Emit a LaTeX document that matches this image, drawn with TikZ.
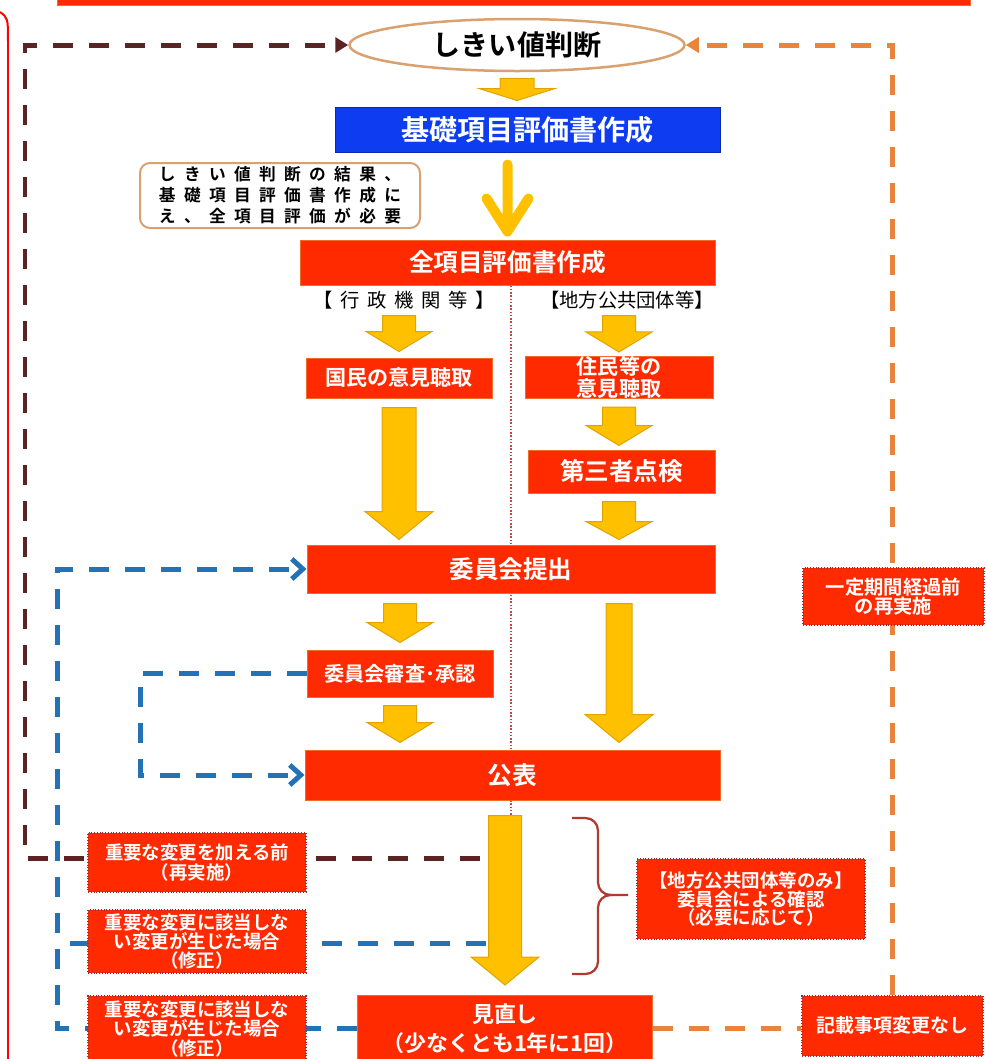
\documentclass[tikz,border=0pt]{standalone}
\usepackage{fontspec}
\setmainfont{Noto Sans CJK JP}[BoldFont={Noto Sans CJK JP Bold}]
\newfontfamily\jpnote{Noto Sans CJK JP}[LetterSpace=50,BoldFont={Noto Sans CJK JP Bold}]
\newfontfamily\jplabel{Noto Sans CJK JP}[LetterSpace=40]
\usetikzlibrary{arrows.meta,calc,backgrounds,shapes.geometric}

\definecolor{boxred}{HTML}{FF2A00}
\definecolor{boxedge}{HTML}{F26A2A}
\definecolor{noteedge}{HTML}{A8282C}
\definecolor{kisoblue}{HTML}{0E3CF0}
\definecolor{kisoedge}{HTML}{0A2AA8}
\definecolor{elledge}{HTML}{D9A070}
\definecolor{yarrc}{HTML}{FFC000}
\definecolor{yarredge}{HTML}{E0A400}
\definecolor{brownc}{HTML}{5A2424}
\definecolor{bluec}{HTML}{2272B5}
\definecolor{orangec}{HTML}{E8843C}
\definecolor{bracec}{HTML}{B03A2E}
\definecolor{divc}{HTML}{C04848}

% block arrow: top point, bottom point, shaft half width, head half width, head length
\newcommand{\yarrow}[5]{%
  \path (#1) coordinate (yat) (#2) coordinate (yab);
  \fill[yarr] ($(yat)+(-#3,0)$) -- ($(yat)+(#3,0)$) -- ($(yab)+(#3,-#5)$) -- ($(yab)+(#4,-#5)$)
    -- (yab) -- ($(yab)+(-#4,-#5)$) -- ($(yab)+(-#3,-#5)$) -- cycle;}

\begin{document}
\begin{tikzpicture}[x=0.02cm,y=-0.02cm]
\useasboundingbox (0,0) rectangle (985,1059);

\tikzstyle{redbox}=[fill=boxred, draw=boxedge, line width=0.02cm, text=white, align=center, inner sep=0pt]
\tikzstyle{notebox}=[redbox, draw=noteedge, densely dotted, line width=0.03cm]
\tikzstyle{yarr}=[fill=yarrc, draw=yarredge, line width=0.02cm]
\tikzstyle{brownline}=[draw=brownc, line width=0.1cm, dash pattern=on 0.4cm off 0.32cm]
\tikzstyle{blueline}=[draw=bluec, line width=0.1cm, dash pattern=on 0.4cm off 0.32cm]
\tikzstyle{orangeline}=[draw=orangec, line width=0.1cm, dash pattern=on 0.4cm off 0.32cm]
\tikzset{sz/.style 2 args={minimum width=#1*0.02cm, minimum height=#2*0.02cm},
         fs/.style 2 args={font=\bfseries\fontsize{#1}{#2}\selectfont}}

% frame pieces
\fill[boxred, draw=boxedge] (57,-5) rectangle (970,5);
\draw[red, line width=0.04cm] (0,12) .. controls (8,18) .. (8,42) -- (8,1059);

% top
\node[ellipse, draw=elledge, line width=0.05cm, fill=white, sz={335}{52}, inner sep=0pt, fs={16}{18}] (thresh) at (517,45) {しきい値判断};
\node[redbox, fill=kisoblue, draw=kisoedge, sz={385}{45}, fs={16}{18}] (kiso) at (527.5,129.5) {基礎項目評価書作成};
\node[draw=elledge, line width=0.04cm, rounded corners=0.2cm, sz={280}{65}, align=left, inner sep=0pt,
      font=\jpnote\bfseries\fontsize{9.5}{12}\selectfont] (note) at (280,195.5)
      {しきい値判断の結果、\\基礎項目評価書作成に\\え、全項目評価が必要};
\node[redbox, sz={415}{45}, fs={14}{16}] (zenkou) at (507.5,262.5) {全項目評価書作成};
\node[font=\jplabel\fontsize{11}{13}\selectfont] (lab1) at (404,300) {【行政機関等】};
\node[font=\fontsize{11}{13}\selectfont] (lab2) at (627,300) {【地方公共団体等】};

% two columns
\node[redbox, sz={186}{40}, fs={12}{14}] (kokumin) at (399,378) {国民の意見聴取};
\node[redbox, sz={188}{41}, fs={12}{12.5}] (jumin) at (619,377.5) {住民等の\\意見聴取};
\node[redbox, sz={187}{43}, fs={14}{16}] (daisan) at (621.5,471.5) {第三者点検};
\node[redbox, sz={408}{48}, fs={14}{16}] (teishutsu) at (511,569) {委員会提出};
\node[redbox, sz={186}{47}, fs={11.5}{13}] (shinsa) at (400,673.5) {委員会審査･承認};
\node[redbox, sz={415}{50}, fs={14}{16}] (kohyo) at (512.5,775) {公表};
\node[redbox, sz={295}{66}, anchor=north, fs={12.5}{16.5}] (minaoshi) at (505,995) {見直し\\（少なくとも1年に1回）};

% notes
\node[notebox, sz={218}{59}, fs={10.5}{11}] (b1) at (197,862.5) {重要な変更を加える前\\（再実施）};
\node[notebox, sz={218}{63}, fs={10.5}{11}] (b2) at (197,941.5) {重要な変更に該当しな\\い変更が生じた場合\\（修正）};
\node[notebox, sz={218}{66}, anchor=north, fs={10.5}{11}] (b3) at (197,995) {重要な変更に該当しな\\い変更が生じた場合\\（修正）};
\node[notebox, sz={228}{80}, fs={10.5}{10.5}] (chiho) at (751,899) {【地方公共団体等のみ】\\委員会による確認\\（必要に応じて）};
\node[notebox, sz={181}{57}, fs={11}{11}] (ittei) at (893.5,596.5) {一定期間経過前\\の再実施};
\node[notebox, sz={181}{60}, anchor=north, fs={10.8}{13}] (kisai) at (892.5,995) {記載事項変更なし};

\coordinate (brownstart) at (480,858);
\coordinate (bluemid) at (486,943);
\coordinate (brownx) at (25,0);
\coordinate (bluex) at (57,0);
\coordinate (loopx) at (140,0);

\begin{scope}[on background layer]
\draw[divc, line width=0.03cm, densely dotted] (zenkou.south -| 511,0) -- ($(kohyo.south -| 511,0)+(0,15)$);
% back to threshold
\draw[brownline, -{Triangle[length=0.26cm,width=0.3cm]}] (brownstart) -- (brownstart -| brownx) -- (thresh.west -| brownx) -- (thresh.west);
\draw[orangeline, -{Triangle[length=0.26cm,width=0.3cm]}] (kisai.north) |- (thresh.east);
\draw[orangeline] (minaoshi.east) -- (kisai.west |- minaoshi.east);
% back to committee
\draw[blueline, -{Straight Barb[length=0.22cm,width=0.4cm]}] (minaoshi.west) -- (minaoshi.west -| bluex) -- (teishutsu.west -| bluex) -- (teishutsu.west);
\draw[blueline] (bluemid) -- (bluemid -| bluex);
\draw[blueline, -{Straight Barb[length=0.22cm,width=0.4cm]}] (shinsa.west) -- (shinsa.west -| loopx) -- (kohyo.west -| loopx) -- (kohyo.west);
\end{scope}

% yellow arrows
\yarrow{$(thresh.south)+(0,6)$}{$(thresh.south |- kiso.north)+(0,-6)$}{17}{38}{12}
\draw[yarrc, line width=0.2cm, line cap=round, line join=round]
  ($(zenkou.north |- kiso.south)+(0,12)$) -- ($(zenkou.north)+(0,-8)$)
  ($(zenkou.north)+(-21,-41)$) -- ($(zenkou.north)+(0,-8)$) -- ($(zenkou.north)+(21,-41)$);
\yarrow{$(zenkou.south -| kokumin)+(0,30)$}{$(kokumin.north)+(0,-6)$}{16.5}{33}{20}
\yarrow{$(zenkou.south -| jumin)+(0,30)$}{$(jumin.north)+(0,-4)$}{16.5}{33}{20}
\yarrow{$(jumin.south)+(0,8)$}{$(jumin.south |- daisan.north)+(0,-4)$}{16.5}{33}{20}
\yarrow{$(kokumin.south)+(0,9)$}{$(kokumin.south |- teishutsu.north)+(0,-5)$}{17}{34}{28}
\yarrow{$(daisan.south -| jumin)+(0,8)$}{$(teishutsu.north -| jumin)+(0,-5)$}{16.5}{33}{18}
\yarrow{$(teishutsu.south -| shinsa)+(0,10)$}{$(shinsa.north)+(0,-7)$}{16.5}{33}{20}
\yarrow{$(shinsa.south)+(0,8)$}{$(shinsa.south |- kohyo.north)+(0,-7)$}{16.5}{33}{20}
\yarrow{$(teishutsu.south -| jumin)+(0,10)$}{$(kohyo.north -| jumin)+(0,-7)$}{13}{34}{28}
\yarrow{$(kohyo.south -| minaoshi)+(0,15)$}{$(minaoshi.north)+(0,-10)$}{16.5}{34}{28}

% brace
\draw[bracec, line width=0.045cm, rounded corners=0.25cm] (572,818) -- (598,818) -- (598,895) -- (628,895);
\draw[bracec, line width=0.045cm, rounded corners=0.25cm] (612,895) -- (598,895) -- (598,974) -- (572,974);

\end{tikzpicture}
\end{document}
